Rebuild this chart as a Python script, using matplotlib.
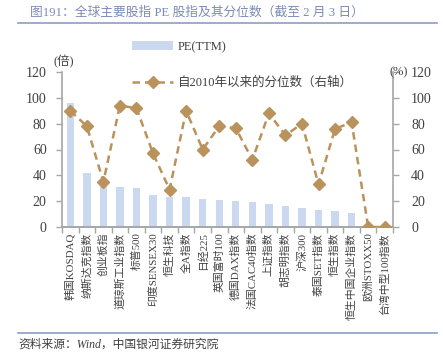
import matplotlib
matplotlib.use("Agg")
import matplotlib.pyplot as plt
import numpy as np
from matplotlib.lines import Line2D
from matplotlib.patches import Patch

plt.rcParams['font.family'] = ['Liberation Serif', 'Noto Sans CJK SC', 'DejaVu Sans']

categories = ["韩国KOSDAQ", "纳斯达克指数", "创业板指", "道琼斯工业指数", "标普500",
              "印度SENSEX30", "恒生科技", "全A指数", "日经225", "英国富时100",
              "德国DAX指数", "法国CAC40指数", "上证指数", "胡志明指数", "沪深300",
              "泰国SET指数", "恒生指数", "恒生中国企业指数", "欧洲STOXX50", "台湾中型100指数"]
pe_ttm = [96, 42, 37, 31, 30, 24.5, 23.5, 23, 21.5, 21, 20, 19, 17.5, 16.5, 15,
          13.5, 12.5, 11, 0, 0]
pct = [90, 78, 35, 94, 92, 57, 29, 90, 60, 78, 76.5, 52, 88, 71, 80, 33, 76, 81, 0, 0]

bar_color = "#cbd9f0"
line_color = "#b9925c"
axis_color = "#a6a6a6"
text_color = "#404040"

fig = plt.figure(figsize=(4.43, 3.56), dpi=100)
ax = fig.add_axes([62/443, 1-227/356, (393-62)/443, (227-72)/356])
x = np.arange(len(categories))
ax.bar(x, pe_ttm, width=0.45, color=bar_color, zorder=1)
ax.set_ylim(0, 120)
ax.set_xlim(-0.5, len(categories) - 0.5)
ax.set_yticks(range(0, 121, 20))
ax2 = ax.twinx()
ax2.plot(x, pct, color=line_color, linestyle=(0, (3, 2)), linewidth=1.8,
         marker='D', markersize=6, zorder=3)
ax2.set_ylim(0, 120)
ax2.set_yticks(range(0, 121, 20))

for a in (ax, ax2):
    a.spines['top'].set_visible(False)
    for s in ['left', 'right', 'bottom']:
        a.spines[s].set_color(axis_color)
        a.spines[s].set_linewidth(1.2)
    a.tick_params(axis='y', colors=axis_color, labelcolor=text_color, labelsize=10,
                  length=4, width=1, pad=7)
ax.spines['right'].set_visible(False)
ax2.spines['left'].set_visible(False)
ax2.tick_params(axis='y', pad=9)

ax.set_xticks(np.arange(-0.5, len(categories), 1), minor=False)
ax.set_xticklabels([])
ax.set_xticks(x, minor=True)
ax.set_xticklabels(categories, minor=True, rotation=90, fontsize=7.8, color=text_color,
                   va='top', ha='center')
ax.tick_params(axis='x', which='major', length=4, colors=axis_color, width=1)
ax.tick_params(axis='x', which='minor', length=0, pad=4)

fig.text(53/443, 1-62/356, "(倍)", fontsize=9, color=text_color, va='center', ha='left')
fig.text(390/443, 1-72/356, "(%)", fontsize=9, color=text_color, va='center', ha='left')

# legend
handles = [Patch(facecolor=bar_color, edgecolor='none'),
           Line2D([0], [0], color=line_color, linestyle=(0, (3, 2)), linewidth=1.8,
                  marker='D', markersize=6)]
fig.legend(handles, ["PE(TTM)", "自2010年以来的分位数（右轴）"], loc='upper left',
           bbox_to_anchor=(127/443, 1-36/356), frameon=False, fontsize=9,
           labelcolor=text_color, handlelength=3.3, labelspacing=1.9, handletextpad=0.35,
           borderaxespad=0)

fig.text(30/443, 1-13/356, "图191：全球主要股指 PE 股指及其分位数（截至 2 月 3 日）",
         fontsize=9.2, color="#7b8bb8", va='center', ha='left')
fig.add_artist(Line2D([18/443, 437/443], [1-23/356, 1-23/356], color="#8c9dc6", linewidth=1.2))
fig.add_artist(Line2D([18/443, 437/443], [1-333/356, 1-333/356], color="#8c9dc6", linewidth=1.2))
fig.text(18/443, 1-345/356, "资料来源：Wind，中国银河证券研究院", fontsize=8.5,
         color=text_color, va='center', ha='left', style='italic')

fig.savefig("out.png", dpi=100)
